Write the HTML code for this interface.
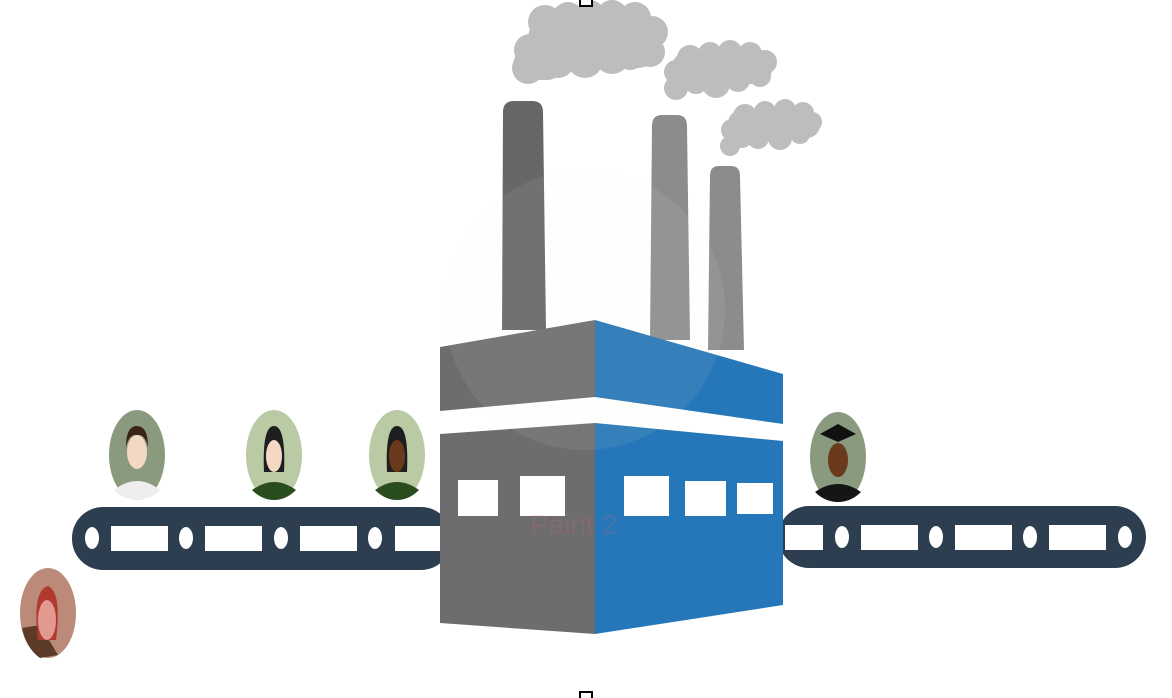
<!DOCTYPE html>
<html><head><meta charset="utf-8"><style>html,body{margin:0;padding:0;background:#fff}svg{display:block}</style></head>
<body>
<svg width="1172" height="698" viewBox="0 0 1172 698" xmlns="http://www.w3.org/2000/svg">
<g fill="#bebdbe">
<rect x="528" y="18" width="130" height="50" rx="20"/>
<rect x="514" y="45" width="50" height="35" rx="17"/>
<circle cx="528" cy="68" r="16"/><circle cx="530" cy="50" r="16"/><circle cx="545" cy="22" r="17"/><circle cx="568" cy="18" r="16"/><circle cx="590" cy="14" r="14"/><circle cx="612" cy="16" r="16"/><circle cx="635" cy="18" r="16"/><circle cx="652" cy="32" r="16"/><circle cx="650" cy="52" r="15"/><circle cx="612" cy="56" r="18"/><circle cx="585" cy="60" r="18"/><circle cx="558" cy="62" r="16"/><circle cx="630" cy="55" r="15"/><circle cx="540" cy="55" r="15"/>
<rect x="672" y="52" width="100" height="32" rx="15"/>
<circle cx="676" cy="88" r="12"/><circle cx="676" cy="72" r="12"/><circle cx="690" cy="58" r="13"/><circle cx="710" cy="54" r="12"/><circle cx="730" cy="52" r="12"/><circle cx="750" cy="54" r="12"/><circle cx="765" cy="62" r="12"/><circle cx="760" cy="76" r="11"/><circle cx="738" cy="80" r="12"/><circle cx="716" cy="84" r="14"/><circle cx="696" cy="82" r="12"/>
<rect x="728" y="110" width="92" height="28" rx="13"/>
<circle cx="730" cy="146" r="10"/><circle cx="732" cy="130" r="11"/><circle cx="745" cy="116" r="12"/><circle cx="765" cy="112" r="11"/><circle cx="785" cy="110" r="11"/><circle cx="803" cy="113" r="11"/><circle cx="812" cy="122" r="10"/><circle cx="800" cy="134" r="10"/><circle cx="780" cy="138" r="12"/><circle cx="758" cy="138" r="11"/><circle cx="742" cy="138" r="10"/>
</g>
<rect x="580" y="-2" width="12" height="8" fill="#fff" stroke="#000" stroke-width="2"/>
<rect x="580" y="692" width="12" height="8" fill="#fff" stroke="#000" stroke-width="2"/>
<path d="M503 112 Q503 101 514 101 L532 101 Q543 101 543 112 L546 330 L502 330 Z" fill="#67676a"/>
<path d="M652 126 Q652 115 662 115 L677 115 Q687 115 687 126 L690 340 L650 340 Z" fill="#8c8c8e"/>
<path d="M710 176 Q710 166 719 166 L731 166 Q740 166 740 176 L744 350 L708 350 Z" fill="#8c8c8e"/>
<rect x="72" y="507" width="380" height="63" rx="31" fill="#2c3e50"/>
<rect x="778" y="506" width="368" height="62" rx="31" fill="#2c3e50"/>
<g fill="#fff">
<ellipse cx="92" cy="538" rx="7" ry="11"/><ellipse cx="186" cy="538" rx="7" ry="11"/><ellipse cx="281" cy="538" rx="7" ry="11"/><ellipse cx="375" cy="538" rx="7" ry="11"/>
<rect x="111" y="526" width="57" height="25"/><rect x="205" y="526" width="57" height="25"/><rect x="300" y="526" width="57" height="25"/><rect x="395" y="526" width="50" height="25"/>
<ellipse cx="842" cy="537" rx="7" ry="11"/><ellipse cx="936" cy="537" rx="7" ry="11"/><ellipse cx="1030" cy="537" rx="7" ry="11"/><ellipse cx="1125" cy="537" rx="7" ry="11"/>
<rect x="785" y="525" width="38" height="25"/><rect x="861" y="525" width="57" height="25"/><rect x="955" y="525" width="57" height="25"/><rect x="1049" y="525" width="57" height="25"/>
</g>
<polygon points="440,347 595,320 595,397 440,411" fill="#6d6d70"/>
<polygon points="440,434 595,423 595,634 440,623" fill="#6d6d70"/>
<polygon points="595,320 783,374 783,424 595,397" fill="#2577b9"/>
<polygon points="595,423 783,441 783,605 595,634" fill="#2577b9"/>
<g fill="#fff">
<rect x="458" y="480" width="40" height="36"/><rect x="520" y="476" width="45" height="40"/>
<rect x="624" y="476" width="45" height="40"/><rect x="685" y="481" width="41" height="35"/><rect x="737" y="483" width="36" height="31"/>
</g>
<circle cx="585" cy="310" r="140" fill="#f5eedc" opacity="0.08"/>
<text x="530" y="534" font-family="Liberation Sans, sans-serif" font-size="28" fill="#e06060" opacity="0.18">Paint 2</text>
<g>
<ellipse cx="137" cy="455" rx="28" ry="45" fill="#8a9a7e"/>
<path d="M114 490 Q137 472 160 490 Q150 500 137 500 Q124 500 114 490Z" fill="#eeeeee"/>
<ellipse cx="137" cy="452" rx="10" ry="17" fill="#f3d9c4"/>
<path d="M126 447 Q126 426 137 426 Q148 426 148 447 Q145 434 137 435 Q129 434 126 447Z" fill="#3a2418"/>
<ellipse cx="274" cy="455" rx="28" ry="45" fill="#b9caa5"/>
<path d="M252 490 Q274 474 296 490 Q286 500 274 500 Q262 500 252 490Z" fill="#2a4d1f"/>
<path d="M264 472 Q262 426 274 426 Q286 426 284 472 Z" fill="#1e1e1e"/>
<ellipse cx="274" cy="456" rx="8" ry="16" fill="#f3d9c4"/>
<ellipse cx="397" cy="455" rx="28" ry="45" fill="#b9caa5"/>
<path d="M375 490 Q397 474 419 490 Q409 500 397 500 Q385 500 375 490Z" fill="#2a4d1f"/>
<path d="M387 472 Q385 426 397 426 Q409 426 407 472 Z" fill="#1e1e1e"/>
<ellipse cx="397" cy="456" rx="8" ry="16" fill="#6b3a1c"/>
<ellipse cx="838" cy="457" rx="28" ry="45" fill="#8a9a7e"/>
<path d="M815 492 Q838 476 861 492 Q851 502 838 502 Q825 502 815 492Z" fill="#151515"/>
<ellipse cx="838" cy="460" rx="10" ry="17" fill="#6b3a1c"/>
<polygon points="820,434 838,424 856,434 838,442" fill="#111"/>
<ellipse cx="48" cy="613" rx="28" ry="45" fill="#bb8a78"/>
<path d="M22 628 L40 625 L58 655 L40 658 Q26 648 22 628Z" fill="#5c3a28"/>
<path d="M38 640 Q32 590 48 586 Q62 592 56 640 Z" fill="#b03a30"/>
<ellipse cx="47" cy="620" rx="9" ry="20" fill="#e2998f"/>
</g>
</svg>
</body></html>
